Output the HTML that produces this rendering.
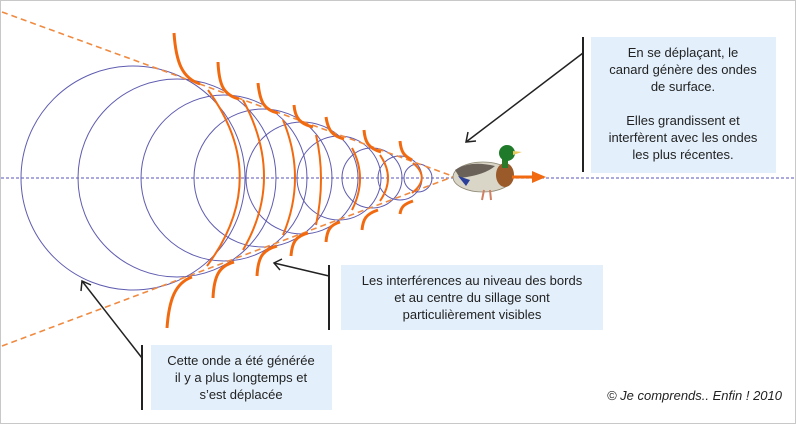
<!DOCTYPE html>
<html><head><meta charset="utf-8"><style>
body{margin:0;background:#fff}
svg{display:block}
text{font-family:"Liberation Sans",sans-serif;font-size:13px;fill:#222}
</style></head><body>
<svg width="796" height="424" viewBox="0 0 796 424" xmlns="http://www.w3.org/2000/svg">
<rect x="0.5" y="0.5" width="795" height="423" fill="#fff" stroke="#c8c8c8"/>
<line x1="1" y1="178" x2="795" y2="178" stroke="#7b78c8" stroke-width="1.2" stroke-dasharray="3,2"/>
<g fill="none" stroke="#5f5cb0" stroke-width="1">
<circle cx="133" cy="178" r="112"/>
<circle cx="177" cy="178" r="99"/>
<circle cx="224" cy="178" r="83"/>
<circle cx="263" cy="178" r="69"/>
<circle cx="302" cy="178" r="56"/>
<circle cx="339" cy="178" r="42"/>
<circle cx="372" cy="178" r="30"/>
<circle cx="400" cy="178" r="22"/>
<circle cx="418" cy="178" r="14"/>
</g>
<g stroke="#f08a40" stroke-width="1.6" stroke-dasharray="6,4" fill="none">
<line x1="2" y1="12" x2="455" y2="177"/>
<line x1="2" y1="346" x2="455" y2="176"/>
</g>
<g fill="none" stroke="#f26a10" stroke-width="3">
<path d="M174,33 C176,62 182,78 200,84"/>
<path d="M218,62 C219,86 224,95 239,99"/>
<path d="M258,83 C260,102 264,110 278,113"/>
<path d="M294,105 C295,118 300,124 313,127"/>
<path d="M326,117 C328,130 332,136 344,139"/>
<path d="M364,130 C365,142 368,148 381,152"/>
<path d="M400,141 C401,152 404,156 412,160"/>
<path d="M167,328 C169,300 175,283 192,277"/>
<path d="M213,298 C214,276 219,266 234,262"/>
<path d="M257,276 C258,258 262,250 277,246"/>
<path d="M291,256 C292,242 296,236 308,233"/>
<path d="M326,242 C327,230 330,225 340,222"/>
<path d="M362,230 C363,219 366,214 378,210"/>
<path d="M400,214 C401,207 404,204 413,201"/>
</g>
<g fill="none" stroke="#f26a10" stroke-width="2">
<path d="M208,90 Q272,178 207,266"/>
<path d="M243,100 Q285,178 243,250"/>
<path d="M283,120 Q307,178 283,235"/>
<path d="M316,135 Q326,178 316,225"/>
<path d="M352,148 Q368,178 352,210"/>
<path d="M380,155 Q396,178 380,201"/>
<path d="M413,163 Q431,178 412,193"/>
</g>
<!-- duck -->
<g>
<ellipse cx="483" cy="177" rx="30" ry="15" fill="#d9d6c8" stroke="#8a8470" stroke-width="0.8"/>
<path d="M455,170 Q470,160 495,166 Q485,175 460,178 Z" fill="#6a6258"/>
<path d="M458,176 L470,180 L466,186 Z" fill="#2a3f9a"/>
<ellipse cx="505" cy="175" rx="9" ry="12" fill="#9a5a2a"/>
<rect x="502" y="158" width="6" height="10" fill="#2c7a2a"/>
<ellipse cx="507" cy="153" rx="8" ry="8" fill="#1f7a2a"/>
<path d="M513,151 L522,152 L513,155 Z" fill="#e8c860"/>
<line x1="484" y1="190" x2="482" y2="200" stroke="#d08060" stroke-width="2"/>
<line x1="490" y1="190" x2="491" y2="200" stroke="#d08060" stroke-width="2"/>
</g>
<line x1="512" y1="177" x2="534" y2="177" stroke="#f26a10" stroke-width="3"/>
<path d="M532,171 L546,177 L532,183 Z" fill="#f26a10"/>
<!-- boxes -->
<rect x="591" y="37" width="185" height="136" fill="#e3f0fc"/>
<rect x="341" y="265" width="262" height="65" fill="#e3f0fc"/>
<rect x="151" y="345" width="181" height="65" fill="#e3f0fc"/>
<g stroke="#222" stroke-width="2" fill="none">
<line x1="583" y1="37" x2="583" y2="172"/>
<line x1="329" y1="265" x2="329" y2="330"/>
<line x1="142" y1="345" x2="142" y2="410"/>
</g>
<g stroke="#222" stroke-width="1.5" fill="none">
<line x1="583" y1="53" x2="466" y2="142"/>
<path d="M468,132 L466,142 L476,141"/>
<line x1="329" y1="276" x2="274" y2="263"/>
<path d="M282,259 L274,263 L280,270"/>
<line x1="142" y1="358" x2="82" y2="281"/>
<path d="M81,291 L82,281 L91,285"/>
</g>
<g text-anchor="middle">
<text x="683" y="57">En se déplaçant, le</text>
<text x="683" y="74">canard génère des ondes</text>
<text x="683" y="91">de surface.</text>
<text x="683" y="125">Elles grandissent et</text>
<text x="683" y="142">interfèrent avec les ondes</text>
<text x="683" y="159">les plus récentes.</text>
<text x="472" y="285">Les interférences au niveau des bords</text>
<text x="472" y="302">et au centre du sillage sont</text>
<text x="472" y="319">particulièrement visibles</text>
<text x="241" y="365">Cette onde a été générée</text>
<text x="241" y="382">il y a plus longtemps et</text>
<text x="241" y="399">s’est déplacée</text>
</g>
<text x="782" y="400" text-anchor="end" font-style="italic">© Je comprends.. Enfin ! 2010</text>
</svg>
</body></html>
